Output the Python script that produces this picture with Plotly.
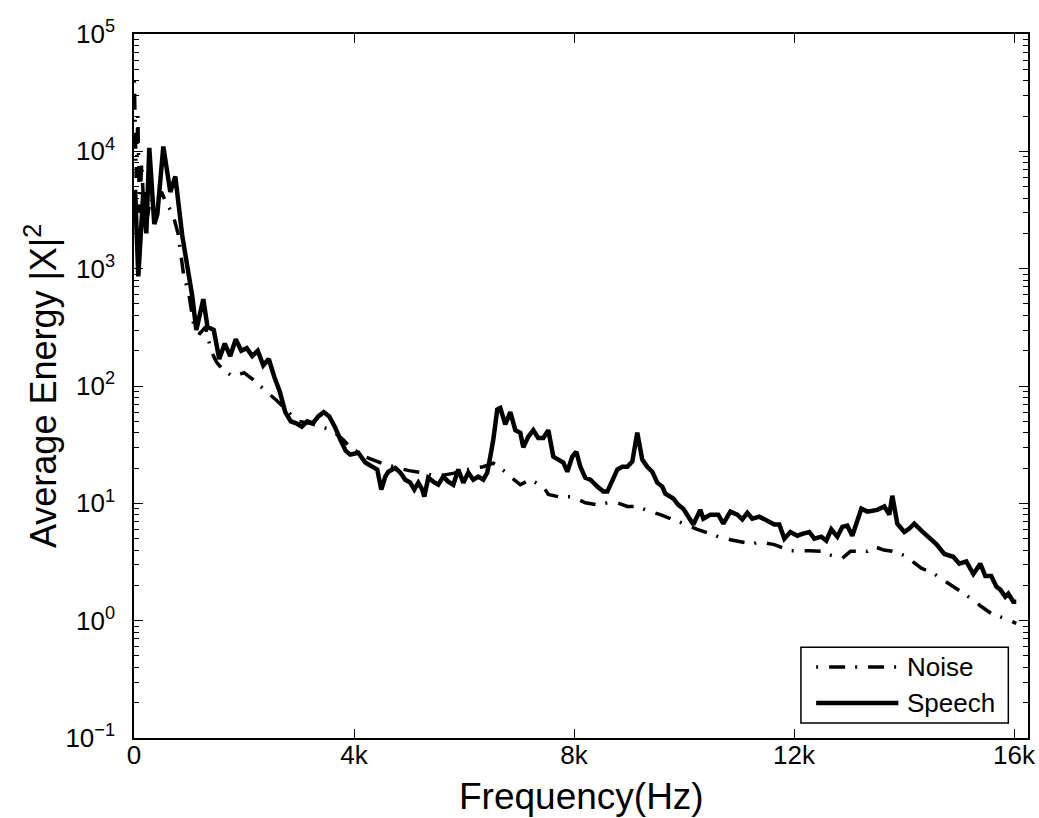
import plotly.graph_objects as go

# Average spectral energy of speech and noise, 0-16 kHz
speech_freq = [20, 78, 169, 224, 278, 369, 424, 533, 660, 751, 878, 987, 1060, 1133, 1260, 1336,
               1450, 1550, 1650, 1750, 1850, 1950, 2050, 2150, 2250, 2350, 2450, 2550, 2650, 2750,
               2850, 2950, 3050, 3150, 3250, 3350, 3450, 3550, 3650, 3750, 3850,
               3932, 4078, 4205, 4350, 4423, 4496, 4569, 4623, 4750, 4841, 4932, 5023, 5096, 5169,
               5241, 5278, 5350, 5441, 5532, 5623, 5714, 5805, 5896, 5987, 6078, 6169, 6260, 6351,
               6423, 6478, 6533, 6605, 6660, 6750, 6842, 6933, 7023, 7078, 7169, 7260, 7350, 7442,
               7533, 7624, 7715, 7805, 7878, 7969, 8042, 8115, 8206, 8297, 8424, 8533, 8606, 8696,
               8787, 8878, 8969, 9060, 9150, 9241, 9332, 9423, 9514, 9605, 9660, 9805, 9896, 9987,
               10115, 10169, 10296, 10351, 10478, 10623, 10715, 10842, 10969, 11060, 11151, 11242,
               11369, 11478, 11642, 11733, 11824, 11933, 12060, 12151, 12278, 12369, 12496, 12587,
               12678, 12787, 12878, 12969, 13060, 13224, 13333, 13515, 13642, 13733, 13787, 13878,
               14005, 14096, 14187, 14315, 14442, 14587, 14733, 14896, 15005, 15133, 15260, 15387,
               15478, 15587, 15678, 15750, 15841, 15896, 15987, 16041]
speech_energy = [4700, 860, 4500, 2000, 10700, 2400, 2900, 11000, 4500, 6100, 1900, 930, 580, 300, 550, 320,
                 300, 170, 230, 180, 250, 200, 210, 180, 200, 150, 170, 120, 90, 60,
                 50, 48, 45, 50, 48, 55, 60, 55, 45, 35, 28,
                 26, 27, 22.3, 20, 19.4, 13.1, 16.9, 18.6, 20, 18.3, 15.9, 15.0, 13.1, 15.0,
                 13.1, 11.4, 16.5, 15.3, 14.4, 16.9, 15.3, 14.4, 19.4, 15.0, 18.3, 15.9, 16.9, 15.9,
                 18.3, 25, 35, 63, 65, 47, 60, 42, 40, 30, 37, 42, 36, 36,
                 42, 25, 23.6, 22.3, 18.6, 25, 27.5, 20.5, 16.5, 15.9, 13.9, 12.6, 12.6, 15.9,
                 19.4, 20.5, 20.5, 22.7, 40, 23.6, 20.5, 18.6, 15.0, 13.9, 12.1, 11.0, 9.7, 9.0,
                 7.3, 6.6, 8.8, 7.4, 8.0, 8.0, 6.7, 8.5, 8.0, 7.3, 8.3, 7.4,
                 7.7, 7.3, 6.6, 6.6, 5.0, 5.7, 5.3, 5.5, 5.7, 5.0, 5.2, 4.8,
                 6.0, 5.2, 6.3, 6.45, 5.3, 9.0, 8.5, 8.8, 9.4, 8.0, 11.6, 6.7,
                 5.7, 6.1, 6.7, 5.85, 5.2, 4.5, 3.7, 3.5, 3.06, 3.2, 2.5, 3.06,
                 2.4, 2.4, 1.95, 1.84, 1.6, 1.7, 1.45, 1.45]

noise_freq = [6, 40, 70, 100, 140, 180, 230, 300, 400, 500, 600, 700, 800, 900, 1000, 1100, 1200,
              1300, 1400, 1500, 1600, 1700, 1800, 2000, 2200, 2400, 2600, 2800, 3000, 3200, 3400,
              3600, 3800, 3932, 4200, 4500, 4800, 5000, 5300, 5500, 5800, 6000, 6169, 6351, 6533,
              6750, 6842, 7023, 7200, 7442, 7533, 7715, 7969, 8206, 8424, 8606, 8787, 8969, 9150,
              9387, 9569, 9896, 10242, 10623, 10842, 11242, 11369, 11642, 11824, 11933, 12278,
              12496, 12678, 12878, 13024, 13333, 13451, 13633, 13787, 14005, 14133, 14315, 14551,
              14805, 15042, 15224, 15405, 15587, 15841, 16041]
noise_energy = [40000, 6000, 20000, 3000, 8000, 3000, 2500, 4000, 3500, 4500, 3500, 3000, 2000, 900,
                600, 300, 280, 320, 200, 160, 140, 130, 120, 130, 110, 90, 75, 60, 50, 48, 45,
                42, 35, 30, 25, 22, 20, 19, 18, 17, 18, 19, 20, 20.5, 22,
                18.6, 16.9, 14.4, 15.9, 13.9, 11.9, 11.4, 11.4, 10.1, 9.7, 10.1, 10.1, 9.4, 9.4,
                8.5, 8.0, 7.0, 6.0, 5.2, 4.9, 4.5, 4.7, 4.45, 4.1, 3.95, 3.95,
                3.9, 3.6, 3.4, 3.9, 3.9, 4.3, 4.0, 3.9, 3.6, 3.25, 2.8, 2.5,
                2.07, 1.77, 1.54, 1.32, 1.15, 1.04, 0.95]

x_tick_vals = [0, 4000, 8000, 12000, 16000]
x_tick_text = ["0", "4k", "8k", "12k", "16k"]
y_tick_vals = [0.1, 1, 10, 100, 1000, 10000, 100000]
y_tick_text = ["10<sup>\u22121</sup>", "10<sup>0</sup>", "10<sup>1</sup>", "10<sup>2</sup>",
               "10<sup>3</sup>", "10<sup>4</sup>", "10<sup>5</sup>"]
y_minor_vals = [m * d for d in [0.1, 1, 10, 100, 1000, 10000] for m in range(2, 10)]

FONT = "Liberation Sans, Arial, Helvetica, sans-serif"
NOISE_DASH = "2px,11px,16px,10px"

fig = go.Figure()
fig.add_trace(go.Scatter(x=speech_freq, y=speech_energy, mode="lines", name="Speech",
                         line=dict(color="black", width=4.5)))
fig.add_trace(go.Scatter(x=noise_freq, y=noise_energy, mode="lines", name="Noise",
                         line=dict(color="black", width=3.5, dash=NOISE_DASH)))

axis_common = dict(showline=True, linecolor="black", linewidth=1.5, mirror="ticks",
                   ticks="inside", tickcolor="black", tickwidth=1, showgrid=False,
                   zeroline=False, automargin=False,
                   tickfont=dict(family=FONT, size=26, color="black"))

fig.update_xaxes(range=[0, 16254], tickmode="array", tickvals=x_tick_vals, ticktext=x_tick_text,
                 ticklen=9, ticklabelstandoff=-7, **axis_common)
fig.update_yaxes(type="log", range=[-1, 5], tickmode="array", tickvals=y_tick_vals,
                 ticktext=y_tick_text, ticklen=9, ticklabelstandoff=12,
                 minor=dict(ticks="inside", ticklen=5, tickmode="array", tickvals=y_minor_vals,
                            tickcolor="black", tickwidth=1, showgrid=False),
                 **axis_common)

# Axis titles
fig.add_annotation(xref="paper", yref="paper", x=0.5, y=-0.083, text="Frequency(Hz)",
                   showarrow=False, xanchor="center", yanchor="middle",
                   font=dict(family=FONT, size=37, color="black"))
fig.add_annotation(xref="paper", yref="paper", x=-0.104, y=0.5, text="Average Energy |X|<sup>2</sup>",
                   showarrow=False, xanchor="center", yanchor="middle", textangle=-90,
                   font=dict(family=FONT, size=36, color="black"))

# Legend box drawn in paper coordinates
fig.add_shape(type="rect", xref="paper", yref="paper", x0=0.746, x1=0.978, y0=0.0213, y1=0.129,
              line=dict(color="black", width=1.5), fillcolor="white", layer="above")
legend_items = [("Noise", 0.1009, NOISE_DASH, 3.5), ("Speech", 0.0497, "solid", 4.5)]
for label, ly, dash, w in legend_items:
    fig.add_shape(type="line", xref="paper", yref="paper", x0=0.763, x1=0.855, y0=ly, y1=ly,
                  line=dict(color="black", width=w, dash=dash), layer="above")
    fig.add_annotation(xref="paper", yref="paper", x=0.862, y=ly, text=label, showarrow=False,
                       xanchor="left", yanchor="middle",
                       font=dict(family=FONT, size=26, color="black"))

fig.update_layout(width=1039, height=818, showlegend=False,
                  paper_bgcolor="white", plot_bgcolor="white",
                  margin=dict(l=134, r=11, t=34, b=80, pad=0),
                  font=dict(family=FONT, color="black"))

fig.write_html("out.html")
